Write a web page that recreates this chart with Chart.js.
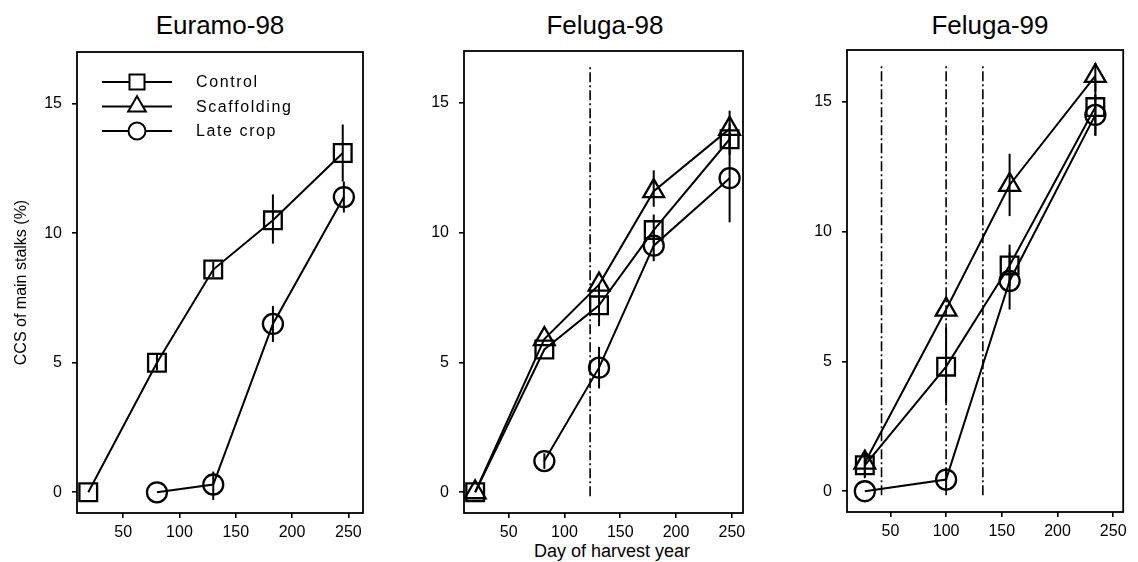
<!DOCTYPE html>
<html>
<head>
<meta charset="utf-8">
<script src="https://cdn.jsdelivr.net/npm/chart.js@4.4.1/dist/chart.umd.min.js"></script>
<style>
  body { margin: 0; background: #fff; width: 1138px; height: 562px; position: relative; overflow: hidden;
         font-family: "Liberation Sans", Arial, sans-serif; color: #000; }
  canvas { position: absolute; top: 0; }
  .ttl { position: absolute; top: 10px; width: 240px; text-align: center; font-size: 26px; line-height: 30px; }
  .xlab { position: absolute; top: 541px; left: 492px; width: 240px; text-align: center; font-size: 18px; line-height: 20px; }
</style>
</head>
<body>
<div class="ttl" style="left:100px">Euramo-98</div>
<div class="ttl" style="left:485px">Feluga-98</div>
<div class="ttl" style="left:870px">Feluga-99</div>
<div class="xlab">Day of harvest year</div>
<canvas id="c1" width="380" height="562" style="left:0px"></canvas>
<canvas id="c2" width="370" height="562" style="left:390px"></canvas>
<canvas id="c3" width="363" height="562" style="left:775px"></canvas>
<script>
// ---- data ----
const xTicks = [50, 100, 150, 200, 250];
const yTicks = [0, 5, 10, 15];
const seriesNames = ['Control', 'Scaffolding', 'Late crop'];

// Euramo-98
const eu98Days = [19, 80, 130, 183, 245];
const eu98Control = [0, 5.0, 8.6, 10.5, 13.1];
const eu98ControlErr = [null, [4.7, 5.3], [8.3, 8.9], [9.6, 11.5], [12.0, 14.2]];
const eu98LateDays = [80, 130, 183, 246];
const eu98Late = [0, 0.3, 6.5, 11.4];
const eu98LateErr = [null, [-0.3, 0.8], [5.8, 7.2], [10.8, 12.0]];

// Feluga-98
const fe98Days = [20, 82, 131, 180, 248];
const fe98Control = [0, 5.5, 7.2, 10.1, 13.6];
const fe98ControlErr = [null, null, [6.4, 8.0], [9.6, 10.7], [13.0, 14.2]];
const fe98Scaf = [0, 5.9, 8.0, 11.6, 14.0];
const fe98ScafErr = [null, null, null, [11.0, 12.4], [13.3, 14.7]];
const fe98LateDays = [82, 131, 180, 248];
const fe98Late = [1.2, 4.8, 9.5, 12.1];
const fe98LateErr = [[0.9, 1.5], [4.0, 5.6], [8.9, 10.1], [10.4, 13.8]];
const fe98Marks = [123];

// Feluga-99
const fe99Days = [27, 100, 157, 234];
const fe99Control = [1.0, 4.8, 8.7, 14.8];
const fe99ControlErr = [[0.6, 1.5], [3.4, 6.3], [7.9, 9.5], [13.7, 15.9]];
const fe99Scaf = [1.1, 7.0, 11.8, 16.0];
const fe99ScafErr = [[0.5, 1.6], null, [10.6, 13.0], [15.4, 16.5]];
const fe99Late = [0, 0.45, 8.1, 14.5];
const fe99LateErr = [null, [0.0, 0.9], [7.0, 9.2], [13.7, 15.3]];
const fe99Marks = [42, 100, 133];

const markSpan = [-0.15, 16.45];

// ---- helpers ----
const FONT = '"Liberation Sans", Arial, sans-serif';
const styles = { Control: 'rect', Scaffolding: 'triangle', 'Late crop': 'circle' };
const radii = { rect: 12.5, triangle: 12, circle: 10 };

function series(name, xs, ys, err) {
    const ps = styles[name];
    return {
        label: name,
        data: xs.map((x, i) => ({ x, y: ys[i] })),
        err,
        showLine: true,
        borderColor: '#000',
        borderWidth: 2,
        backgroundColor: 'rgba(0,0,0,0)',
        pointStyle: ps,
        pointRadius: radii[ps],
        pointHoverRadius: radii[ps],
        pointBorderWidth: 2.3,
        pointBorderColor: '#000'
    };
}

function harvestLine(x) {
    return {
        label: 'mark',
        data: markSpan.map(y => ({ x, y })),
        showLine: true,
        borderColor: '#000',
        borderWidth: 1.6,
        borderDash: [10, 3, 2, 3],
        pointRadius: 0,
        pointHoverRadius: 0
    };
}

// frame + vertical error bars, drawn through the scales
const errorBars = {
    id: 'errorBars',
    beforeDatasetsDraw(chart) {
        const { ctx, chartArea: a, scales: { x, y } } = chart;
        ctx.save();
        ctx.strokeStyle = '#000';
        ctx.lineWidth = 1.8;
        ctx.strokeRect(a.left, a.top, a.right - a.left, a.bottom - a.top);
        ctx.lineWidth = 2;
        chart.data.datasets.forEach(ds => {
            if (!ds.err) return;
            ds.err.forEach((e, i) => {
                if (!e) return;
                const px = x.getPixelForValue(ds.data[i].x);
                ctx.beginPath();
                ctx.moveTo(px, y.getPixelForValue(e[0]));
                ctx.lineTo(px, y.getPixelForValue(e[1]));
                ctx.stroke();
            });
        });
        ctx.restore();
    }
};

// legend drawn as line - marker - line, like the original
const lineLegend = {
    id: 'lineLegend',
    afterDraw(chart) {
        const { ctx, chartArea: a } = chart;
        ctx.save();
        ctx.strokeStyle = '#000';
        ctx.fillStyle = '#000';
        ctx.font = '16px ' + FONT;
        ctx.letterSpacing = '1.6px';
        ctx.textBaseline = 'middle';
        seriesNames.forEach((name, i) => {
            const cy = a.top + 30 + i * 24.5;
            ctx.lineWidth = 1.8;
            ctx.beginPath();
            ctx.moveTo(a.left + 25, cy);
            ctx.lineTo(a.left + 95, cy);
            ctx.stroke();
            const ps = styles[name];
            ctx.save();
            ctx.fillStyle = '#fff';
            ctx.lineWidth = 2;
            Chart.helpers.drawPoint(ctx, { pointStyle: ps, radius: radii[ps] * 0.85, borderWidth: 2, rotation: 0 }, a.left + 60, cy);
            ctx.restore();
            ctx.fillText(name, a.left + 119, cy + 1);
        });
        ctx.restore();
    }
};

function makePanel(id, cfg) {
    new Chart(document.getElementById(id), {
        type: 'scatter',
        data: { datasets: cfg.datasets },
        options: {
            responsive: false,
            animation: false,
            events: [],
            layout: { padding: { left: 0, right: cfg.padRight, top: cfg.padTop, bottom: 0 } },
            plugins: { legend: { display: false }, tooltip: { enabled: false } },
            scales: {
                x: {
                    type: 'linear',
                    min: cfg.xRange[0],
                    max: cfg.xRange[1],
                    afterBuildTicks: ax => { ax.ticks = xTicks.map(v => ({ value: v })); },
                    afterFit: ax => { ax.height = cfg.xAxisH; },
                    border: { display: false },
                    grid: { drawOnChartArea: false, drawTicks: true, tickLength: 5, color: '#000', lineWidth: 1.6 },
                    ticks: { color: '#000', font: { family: FONT, size: 16 }, padding: 5, maxRotation: 0 }
                },
                y: {
                    type: 'linear',
                    min: -0.8,
                    max: 17,
                    afterBuildTicks: ax => { ax.ticks = yTicks.map(v => ({ value: v })); },
                    afterFit: ax => { ax.width = cfg.axisW; },
                    border: { display: false },
                    grid: { drawOnChartArea: false, drawTicks: true, tickLength: 5, color: '#000', lineWidth: 1.6 },
                    ticks: { color: '#000', font: { family: FONT, size: 16 }, padding: 10 },
                    title: {
                        display: !!cfg.yTitle,
                        text: cfg.yTitle || '',
                        color: '#000',
                        font: { family: FONT, size: 16 },
                        padding: { top: 12, bottom: 0 }
                    }
                }
            }
        },
        plugins: cfg.legend ? [errorBars, lineLegend] : [errorBars]
    });
}

makePanel('c1', {
    padTop: 52, padRight: 17, axisW: 77, xAxisH: 49, xRange: [9, 263],
    yTitle: 'CCS of main stalks (%)', legend: true,
    datasets: [
        series('Control', eu98Days, eu98Control, eu98ControlErr),
        series('Late crop', eu98LateDays, eu98Late, eu98LateErr)
    ]
});

makePanel('c2', {
    padTop: 51, padRight: 17, axisW: 74, xAxisH: 49, xRange: [10, 260],
    datasets: [
        ...fe98Marks.map(harvestLine),
        series('Control', fe98Days, fe98Control, fe98ControlErr),
        series('Scaffolding', fe98Days, fe98Scaf, fe98ScafErr),
        series('Late crop', fe98LateDays, fe98Late, fe98LateErr)
    ]
});

makePanel('c3', {
    padTop: 50, padRight: 7, axisW: 72, xAxisH: 50, xRange: [11, 259],
    datasets: [
        ...fe99Marks.map(harvestLine),
        series('Control', fe99Days, fe99Control, fe99ControlErr),
        series('Scaffolding', fe99Days, fe99Scaf, fe99ScafErr),
        series('Late crop', fe99Days, fe99Late, fe99LateErr)
    ]
});
</script>
</body>
</html>
